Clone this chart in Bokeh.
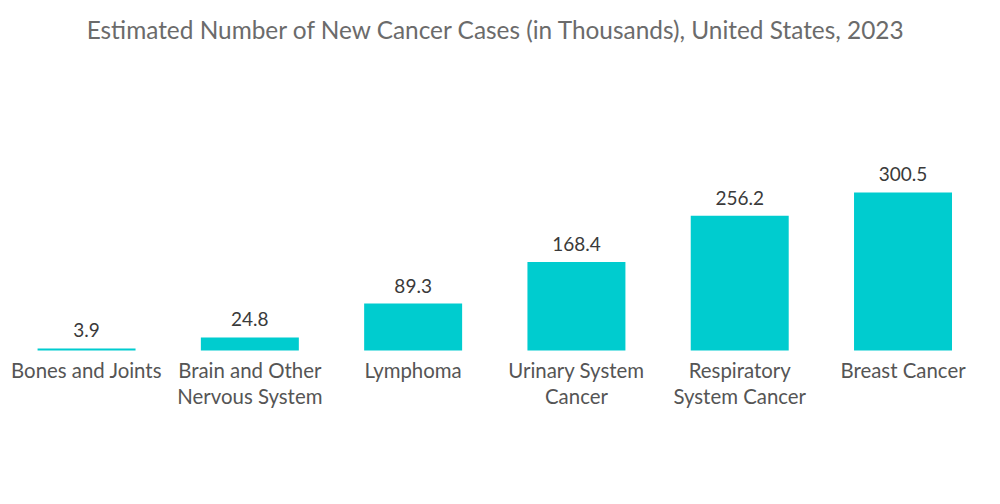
from bokeh.plotting import figure
from bokeh.models import Range1d, Label, ColumnDataSource
from bokeh.core.properties import value
from bokeh.embed import file_html
from bokeh.resources import INLINE

categories = ["Bones and Joints", "Brain and Other\nNervous System", "Lymphoma",
              "Urinary System\nCancer", "Respiratory\nSystem Cancer", "Breast Cancer"]
values = [3.9, 24.8, 89.3, 168.4, 256.2, 300.5]
value_labels = ["3.9", "24.8", "89.3", "168.4", "256.2", "300.5"]
title_text = "Estimated Number of New Cancer Cases (in Thousands), United States, 2023"

xs = list(range(len(categories)))
src = ColumnDataSource(dict(x=xs, top=values, cat=categories, lab=value_labels,
                            zero=[0] * len(xs)))

p = figure(width=984, height=488, output_backend="svg", toolbar_location=None,
           x_range=Range1d(-0.527, 5.499), y_range=Range1d(-262.4, 665.4),
           min_border=0, min_border_left=0, min_border_right=0,
           min_border_top=0, min_border_bottom=0)
p.axis.visible = False
p.grid.visible = False
p.outline_line_color = None
p.background_fill_color = "white"
p.border_fill_color = "white"

p.vbar(x="x", top="top", bottom=0, width=0.6, source=src,
       fill_color="#00CCCF", line_color=None)

FONT = "Lato"
p.text(x="x", y="top", text="lab", source=src, text_align="center",
       text_baseline="bottom", y_offset=-11, text_font=value(FONT),
       text_font_size="19px", text_color="#3a3a3a")

p.text(x="x", y="zero", text="cat", source=src, text_align="center",
       text_baseline="top", y_offset=8, text_font=value(FONT),
       text_font_size="20.4px", text_color="#555555", text_line_height=1.08)

title = Label(x=496, y=459, x_units="screen", y_units="screen", text=title_text,
              text_align="center", text_baseline="middle", text_font=FONT,
              text_font_size="24.4px", text_color="#6b6b6b")
p.add_layout(title)

open("out.html", "w").write(file_html(p, INLINE))
